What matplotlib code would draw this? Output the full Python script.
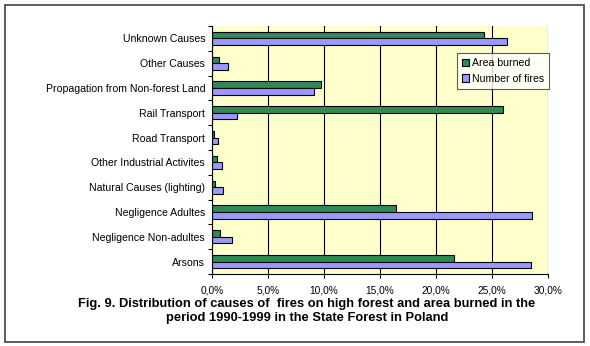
import matplotlib
matplotlib.use("Agg")
from matplotlib import pyplot as plt
from matplotlib.patches import Rectangle
from matplotlib.ticker import FuncFormatter, FixedLocator
import numpy as np

# categories listed bottom -> top
causes = ["Arsons", "Negligence Non-adultes", "Negligence Adultes",
          "Natural Causes (lighting)", "Other Industrial Activites",
          "Road Transport", "Rail Transport", "Propagation from Non-forest Land",
          "Other Causes", "Unknown Causes"]
area_burned = [21.6, 0.75, 16.4, 0.3, 0.45, 0.2, 26.0, 9.7, 0.6, 24.3]
number_of_fires = [28.5, 1.8, 28.6, 1.0, 0.9, 0.5, 2.2, 9.1, 1.4, 26.3]
xticks = [0, 5, 10, 15, 20, 25, 30]
title = ("Fig. 9. Distribution of causes of  fires on high forest and area burned in the\n"
         "period 1990-1999 in the State Forest in Poland")

plt.rcParams['font.family'] = ['Liberation Sans', 'DejaVu Sans']

fig = plt.figure(figsize=(5.9, 3.46), dpi=100)
fig.patch.set_facecolor("white")

# outer frame
fig.patches.append(Rectangle((5 / 590, 1 - 342 / 346), 579 / 590, 337 / 346,
                             transform=fig.transFigure, fill=False,
                             edgecolor="#505050", linewidth=1.3))

ax = fig.add_axes([212 / 590, 1 - 274 / 346, 336 / 590, 248 / 346])
ax.set_facecolor("#FFFFCC")

y = np.arange(len(causes))
h = 0.27
ax.barh(y + h / 2, area_burned, height=h, color="#2E8B57", edgecolor="black",
        linewidth=0.8, label="Area burned", zorder=3)
ax.barh(y - h / 2, number_of_fires, height=h, color="#9999FF", edgecolor="black",
        linewidth=0.8, label="Number of fires", zorder=3)

ax.set_xlim(0, 30)
ax.set_ylim(-0.5, len(causes) - 0.5)
ax.set_xticks(xticks)
ax.xaxis.set_major_formatter(FuncFormatter(lambda v, p: ("%.1f%%" % v).replace(".", ",")))
ax.grid(axis="x", color="black", linewidth=0.8, zorder=1)

ax.set_yticks(y)
ax.set_yticklabels(causes)
ax.yaxis.set_minor_locator(FixedLocator(np.arange(-0.5, len(causes), 1.0)))
ax.tick_params(axis="y", which="major", length=0, pad=5, labelsize=7.6)
ax.tick_params(axis="y", which="minor", length=3, width=0.8)
ax.tick_params(axis="x", length=3, width=0.8, labelsize=7.3, pad=5)

for side in ["top", "right"]:
    ax.spines[side].set_visible(False)
for side in ["left", "bottom"]:
    ax.spines[side].set_linewidth(0.8)
    ax.spines[side].set_zorder(4)

leg = ax.legend(loc="upper right", bbox_to_anchor=(1.003, 0.89), fontsize=7.6,
                frameon=True, fancybox=False, edgecolor="#333333",
                handlelength=0.7, handleheight=0.7, handletextpad=0.3,
                borderpad=0.45, labelspacing=0.55, borderaxespad=0)
leg.get_frame().set_linewidth(0.8)

fig.text(0.52, 1 - 311 / 346, title, ha="center", va="center",
         fontsize=9.3, fontweight="bold", linespacing=1.2,
         family=['Liberation Sans Narrow', 'Liberation Sans', 'DejaVu Sans'])

fig.savefig("out.png", dpi=100)
